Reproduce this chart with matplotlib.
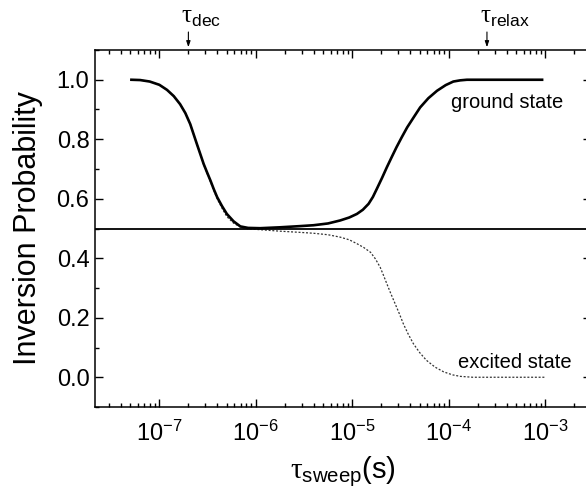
import matplotlib
matplotlib.use("Agg")
import matplotlib.pyplot as plt
from matplotlib.ticker import LogLocator, MultipleLocator, NullFormatter

plt.rcParams['font.family'] = ['Liberation Sans', 'DejaVu Sans']
plt.rcParams['mathtext.fontset'] = 'custom'
plt.rcParams['mathtext.rm'] = 'Liberation Sans'
plt.rcParams['mathtext.it'] = 'Liberation Sans:italic'
plt.rcParams['mathtext.sf'] = 'Liberation Serif'
plt.rcParams['mathtext.default'] = 'regular'

# ground state curve
tau_ground = [5.13e-8, 6.31e-8, 7.94e-8, 1.00e-7, 1.20e-7, 1.41e-7, 1.64e-7, 1.86e-7,
              2.09e-7, 2.26e-7, 2.45e-7, 2.66e-7, 2.88e-7, 3.13e-7, 3.39e-7, 3.67e-7,
              3.98e-7, 4.47e-7, 5.01e-7, 5.89e-7, 6.92e-7, 8.32e-7, 1.11e-6, 1.78e-6,
              2.88e-6, 3.98e-6, 5.62e-6, 7.50e-6, 9.33e-6, 1.12e-5, 1.29e-5, 1.48e-5,
              1.64e-5, 1.80e-5, 2.04e-5, 2.29e-5, 2.57e-5, 2.88e-5, 3.27e-5, 3.72e-5,
              4.37e-5, 5.07e-5, 6.17e-5, 7.59e-5, 9.33e-5, 1.12e-4, 1.32e-4, 1.55e-4,
              9.33e-4]
p_ground = [1.000, 0.999, 0.994, 0.983, 0.966, 0.945, 0.918, 0.888,
            0.851, 0.818, 0.784, 0.750, 0.717, 0.688, 0.661, 0.632,
            0.605, 0.575, 0.549, 0.524, 0.507, 0.502, 0.501, 0.504,
            0.508, 0.511, 0.517, 0.527, 0.537, 0.549, 0.563, 0.583,
            0.606, 0.633, 0.670, 0.706, 0.740, 0.773, 0.807, 0.840,
            0.875, 0.907, 0.938, 0.963, 0.982, 0.994, 0.998, 1.000,
            1.000]

# excited state curve
tau_excited = [5.13e-8, 6.31e-8, 7.94e-8, 1.00e-7, 1.20e-7, 1.41e-7, 1.64e-7, 1.86e-7,
               2.09e-7, 2.26e-7, 2.45e-7, 2.66e-7, 2.88e-7, 3.13e-7, 3.39e-7, 3.67e-7,
               3.98e-7, 4.47e-7, 5.01e-7, 5.89e-7, 6.92e-7, 8.32e-7, 1.11e-6, 1.78e-6,
               2.88e-6, 3.98e-6, 5.62e-6, 7.50e-6, 9.33e-6, 1.12e-5, 1.32e-5, 1.55e-5,
               1.74e-5, 1.95e-5, 2.11e-5, 2.29e-5, 2.51e-5, 2.79e-5, 3.09e-5, 3.39e-5,
               3.80e-5, 4.31e-5, 5.01e-5, 5.89e-5, 7.24e-5, 8.91e-5, 1.10e-4, 1.32e-4,
               1.78e-4, 1.00e-3]
p_excited = [1.000, 0.999, 0.994, 0.983, 0.966, 0.945, 0.918, 0.888,
             0.851, 0.818, 0.784, 0.750, 0.715, 0.685, 0.657, 0.628,
             0.600, 0.568, 0.540, 0.518, 0.505, 0.499, 0.496, 0.491,
             0.487, 0.484, 0.479, 0.471, 0.462, 0.449, 0.436, 0.420,
             0.398, 0.370, 0.343, 0.314, 0.282, 0.247, 0.213, 0.180,
             0.146, 0.113, 0.083, 0.057, 0.034, 0.018, 0.008, 0.003,
             0.000, 0.000]

half_level = 0.5
y_ticks = [0.0, 0.2, 0.4, 0.6, 0.8, 1.0]
y_tick_labels = ['0.0', '0.2', '0.4', '0.6', '0.8', '1.0']
x_ticks = [1e-7, 1e-6, 1e-5, 1e-4, 1e-3]
x_tick_labels = ['$10^{-7}$', '$10^{-6}$', '$10^{-5}$', '$10^{-4}$', '$10^{-3}$']
tau_dec = 2.0e-7
tau_relax = 2.5e-4

fig = plt.figure(figsize=(5.86, 5.04), dpi=100)
ax = fig.add_axes([95/586, 97/504, 496/586, 357/504])

ax.plot(tau_excited, p_excited, color='#333333', lw=0.9, ls=(0, (1.6, 1.4)))
ax.plot(tau_ground, p_ground, color='black', lw=1.9)
ax.axhline(half_level, color='black', lw=1.3)

ax.set_xscale('log')
ax.set_xlim(2.15e-8, 3e-3)
ax.set_ylim(-0.1, 1.1)

ax.set_xticks(x_ticks)
ax.set_xticklabels(x_tick_labels)
ax.xaxis.set_minor_locator(LogLocator(base=10, subs=range(2, 10), numticks=20))
ax.xaxis.set_minor_formatter(NullFormatter())
ax.set_yticks(y_ticks)
ax.set_yticklabels(y_tick_labels)
ax.yaxis.set_minor_locator(MultipleLocator(0.1))

ax.tick_params(which='both', direction='in', top=True, right=True, width=1.0)
ax.tick_params(which='major', length=5.5)
ax.tick_params(which='minor', length=3)
ax.tick_params(axis='y', which='major', labelsize=17, pad=4)
ax.tick_params(axis='x', which='major', labelsize=17, pad=10)
for s in ax.spines.values():
    s.set_linewidth(1.1)

ax.set_ylabel('Inversion Probability', fontsize=22, labelpad=10)
ax.set_xlabel(r'$\mathsf{\tau}_{sweep}(s)$', fontsize=21, labelpad=6)

ax.text(4.05e-4, 0.923, 'ground state', fontsize=14.5, ha='center', va='center')
ax.text(4.9e-4, 0.050, 'excited state', fontsize=14.5, ha='center', va='center')

for tx, lab in [(tau_dec, r'$\mathsf{\tau}_{dec}$'), (tau_relax, r'$\mathsf{\tau}_{relax}$')]:
    ax.annotate('', xy=(tx, 1.0), xycoords=('data', 'axes fraction'),
                xytext=(tx, 1.0 + 18/357), textcoords=('data', 'axes fraction'),
                arrowprops=dict(arrowstyle='-|>,head_length=0.35,head_width=0.12',
                                color='black', lw=0.8, shrinkA=0, shrinkB=2))
    ax.annotate(lab, xy=(tx, 1.0 + 18/357), xycoords=('data', 'axes fraction'),
                xytext=(-5, 2), textcoords='offset points',
                fontsize=18, ha='left', va='bottom')

fig.savefig('out.png', dpi=100)
